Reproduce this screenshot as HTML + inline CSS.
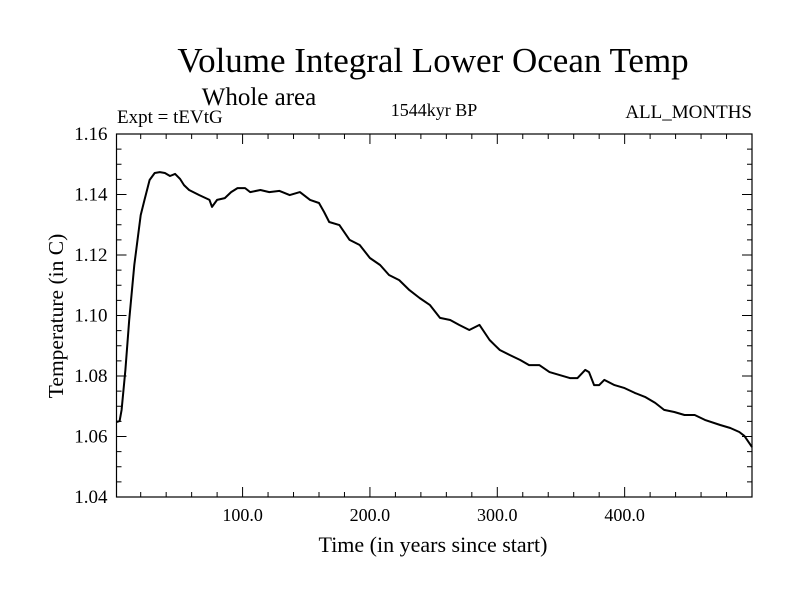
<!DOCTYPE html>
<html><head><meta charset="utf-8"><style>
body{margin:0;background:#fff;}
svg{display:block;font-family:"Liberation Serif",serif;}
</style></head><body>
<svg id="chart" width="800" height="600">
<rect width="800" height="600" fill="#fff"/>
<text x="433" y="72" font-size="35" text-anchor="middle">Volume Integral Lower Ocean Temp</text>
<text x="259" y="105" font-size="25" text-anchor="middle">Whole area</text>
<text x="117" y="123" font-size="19">Expt = tEVtG</text>
<text x="434" y="116" font-size="18" text-anchor="middle">1544kyr BP</text>
<text x="752" y="118" font-size="19" text-anchor="end">ALL_MONTHS</text>
<text transform="translate(63,316) rotate(-90)" font-size="21.5" text-anchor="middle">Temperature (in C)</text>
<text x="433" y="552" font-size="22" text-anchor="middle">Time (in years since start)</text>
<g id="axes"></g>
<g id="series"></g>
</svg>
<script>
const years=[1,3.4,5,8,11,15,20,23,27,31,35,39,43,47,51,54,58,66,74,76,80,86,91,96,102,106,114,121,129,137,145,153,160,164,168,176,184,192,200,208,215,223,231,239,247,255,263,270,278,286,294,298,302,310,318,325,333,341,349,357,363,369,372,376,380,384,392,400,408,416,424,431,439,447,455,463,475,483,490,494,500];
const temps=[1.0648,1.0651,1.0688,1.082,1.0985,1.1167,1.1332,1.1382,1.1448,1.1471,1.1474,1.1471,1.1461,1.1468,1.1451,1.1431,1.1415,1.1398,1.1382,1.1359,1.1382,1.1388,1.1408,1.1421,1.1421,1.1408,1.1415,1.1408,1.1412,1.1398,1.1408,1.1382,1.1372,1.1342,1.1309,1.1299,1.1250,1.1233,1.1190,1.1167,1.1134,1.1117,1.1084,1.1058,1.1035,1.0992,1.0985,1.0969,1.0952,1.0969,1.0919,1.0902,1.0886,1.0869,1.0853,1.0836,1.0836,1.0813,1.0803,1.0793,1.0793,1.0820,1.0813,1.0770,1.0770,1.0787,1.0770,1.0760,1.0744,1.0731,1.0711,1.0688,1.0681,1.0671,1.0671,1.0655,1.0638,1.0628,1.0615,1.0602,1.0565];
const xTickValues=[100,200,300,400];
const xTickLabels=["100.0","200.0","300.0","400.0"];
const yTickValues=[1.04,1.06,1.08,1.10,1.12,1.14,1.16];
const yTickLabels=["1.04","1.06","1.08","1.10","1.12","1.14","1.16"];
const L=116.5,R=752,T=134,B=497,X0=1,X1=500,Y0=1.04,Y1=1.16;
function sx(v){return L+(v-X0)/(X1-X0)*(R-L);}
function sy(v){return B-(v-Y0)/(Y1-Y0)*(B-T);}
const NS="http://www.w3.org/2000/svg";
const ax=document.getElementById('axes');
function mk(tag,attrs,parent){const e=document.createElementNS(NS,tag);for(const k in attrs)e.setAttribute(k,attrs[k]);parent.appendChild(e);return e;}
const frame=mk('rect',{x:L,y:T,width:R-L,height:B-T,fill:'none',stroke:'#000','stroke-width':1.2},ax);


for(let v=20;v<X1;v+=20){const maj=v%100===0;const len=maj?10:5;const x=sx(v);
 const t1=mk('line',{x1:x,x2:x,y1:B,y2:B-len,stroke:'#000'},ax);
 
 
 const t2=mk('line',{x1:x,x2:x,y1:T,y2:T+len,stroke:'#000'},ax);
 
 }
xTickValues.forEach((v,i)=>{const t=mk('text',{x:sx(v),y:B+24,'font-size':18,'text-anchor':'middle'},ax);t.textContent=xTickLabels[i];
 
 });
for(let k=0;k<=24;k++){const v=Y0+k*0.005;const maj=k%4===0;const len=maj?10:5;const y=sy(v);
 const t1=mk('line',{x1:L,x2:L+len,y1:y,y2:y,stroke:'#000'},ax);
 
 
 const t2=mk('line',{x1:R,x2:R-len,y1:y,y2:y,stroke:'#000'},ax);
 
 }
yTickValues.forEach((v,i)=>{const t=mk('text',{x:L-9,y:sy(v)+6,'font-size':19,'text-anchor':'end'},ax);t.textContent=yTickLabels[i];
 
 });
const d=years.map((yr,i)=>(i?'L':'M')+sx(yr).toFixed(1)+','+sy(temps[i]).toFixed(1)).join('');
const line=mk('path',{d:d,fill:'none',stroke:'#000','stroke-width':2,'stroke-linejoin':'round'},document.getElementById('series'));


</script>
</body></html>
